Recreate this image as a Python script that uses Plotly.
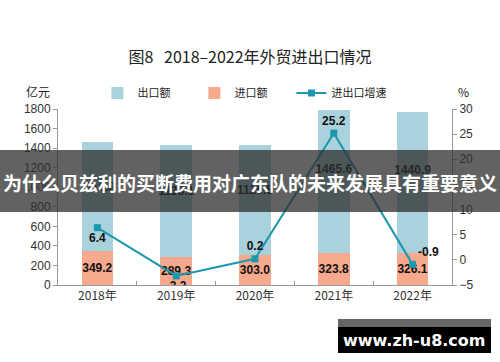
import plotly.graph_objects as go

years = ["2018年", "2019年", "2020年", "2021年", "2022年"]
exports = [1110.8, 1138.1, 1126.5, 1465.6, 1440.9]
imports = [349.2, 289.3, 303.0, 323.8, 326.1]
growth = [6.4, -3.2, 0.2, 25.2, -0.9]
growth_pos = ["bottom center", "bottom center", "top center", "top center", "top right"]

FONT = "Noto Sans CJK SC, Liberation Sans, Arial, sans-serif"
LBL = dict(color="#111", size=12, family="Liberation Sans, Arial", weight="bold")

fig = go.Figure()
fig.add_trace(go.Bar(
    x=years, y=imports, name="进口额",
    marker=dict(color="#f6a98c", line=dict(width=0)),
    text=[f"{v:.1f}" for v in imports], textposition="inside",
    insidetextanchor="middle", constraintext="none", textangle=0,
    textfont=LBL, width=0.4, legendrank=2,
))
fig.add_trace(go.Bar(
    x=years, y=exports, name="出口额",
    marker=dict(color="#a9d2dd", line=dict(width=0)),
    width=0.4, legendrank=1,
))
# export value labels, a little above the middle of each export segment
fig.add_trace(go.Scatter(
    x=years, y=[imp + exp * 0.58 for imp, exp in zip(imports, exports)],
    mode="text", text=[f"{v:.1f}" for v in exports], textposition="middle center",
    textfont=LBL, showlegend=False, hoverinfo="skip",
))
fig.add_trace(go.Scatter(
    x=years, y=growth, name="进出口增速", yaxis="y2",
    mode="lines+markers+text",
    line=dict(color="#1b98ad", width=2),
    marker=dict(symbol="square", size=7, color="#1b98ad"),
    text=[f"{v:.1f}" for v in growth], textposition=growth_pos,
    textfont=LBL, legendrank=3,
))

fig.update_layout(
    width=500, height=362,
    margin=dict(l=58, r=48, t=109, b=77, autoexpand=False),
    paper_bgcolor="white", plot_bgcolor="white",
    barmode="stack",
    showlegend=True,
    font=dict(family=FONT, color="#333", size=12),
    title=dict(text="图8   2018–2022年外贸进出口情况", x=0.5, xanchor="center",
               y=1 - 57 / 362, yanchor="middle",
               font=dict(size=16, color="#222", family=FONT)),
    legend=dict(orientation="h", x=0.1, xanchor="left", y=(285 - 93) / 176, yanchor="middle",
                entrywidth=52, traceorder="normal",
                font=dict(size=11, color="#222"), bgcolor="rgba(0,0,0,0)"),
    xaxis=dict(showline=True, linecolor="#999", linewidth=1, ticks="inside",
               tickson="boundaries", ticklen=4, tickcolor="#999",
               tickfont=dict(size=12, color="#333", family=FONT)),
    yaxis=dict(range=[0, 1800], dtick=200, showgrid=False, zeroline=False,
               showline=True, linecolor="#999", ticks="outside", ticklen=4,
               tickcolor="#999", tickfont=dict(size=12, color="#333", family="Liberation Sans, Arial")),
    yaxis2=dict(range=[-5, 30], dtick=5, overlaying="y", side="right",
                showgrid=False, zeroline=False, showline=True, linecolor="#999",
                ticks="outside", ticklen=4, tickcolor="#999",
                tickfont=dict(size=12, color="#333", family="Liberation Sans, Arial")),
)

fig.add_annotation(text="亿元", xref="paper", yref="paper", x=-0.05, y=(285 - 92) / 176,
                   xanchor="center", yanchor="middle", showarrow=False,
                   font=dict(size=12, color="#222"))
fig.add_annotation(text="%", xref="paper", yref="paper", x=1.03, y=(285 - 92) / 176,
                   xanchor="center", yanchor="middle", showarrow=False,
                   font=dict(size=12, color="#222"))

# overlay banner
fig.add_shape(type="rect", xref="paper", yref="paper", x0=-58 / 394, x1=1 + 48 / 394,
              y0=(285 - 212) / 176, y1=(285 - 150) / 176,
              fillcolor="rgba(45,45,45,0.75)", line=dict(width=0), layer="above")
fig.add_annotation(text="<b>为什么贝兹利的买断费用对广东队的未来发展具有重要意义</b>",
                   xref="paper", yref="paper", x=(250 - 58) / 394, y=(285 - 182) / 176,
                   xanchor="center", yanchor="middle", showarrow=False,
                   font=dict(size=19, color="white", family=FONT))

# watermark
fig.add_shape(type="rect", xref="paper", yref="paper", x0=(338 - 58) / 394, x1=(491 - 58) / 394,
              y0=(285 - 353) / 176, y1=(285 - 319) / 176,
              fillcolor="black", line=dict(width=0), layer="above")
fig.add_shape(type="rect", xref="paper", yref="paper", x0=(338 - 58) / 394, x1=(491 - 58) / 394,
              y0=(285 - 327) / 176, y1=(285 - 319) / 176,
              fillcolor="#666", line=dict(width=0), layer="above")
fig.add_annotation(text="<b>www.zh-u8.com</b>", xref="paper", yref="paper",
                   x=(414 - 58) / 394, y=(285 - 340) / 176,
                   xanchor="center", yanchor="middle", showarrow=False,
                   font=dict(size=16, color="white", family="DejaVu Sans, Arial"))

fig.write_html("out.html", config={"displayModeBar": False},
               post_script="document.body.style.margin='0';")
